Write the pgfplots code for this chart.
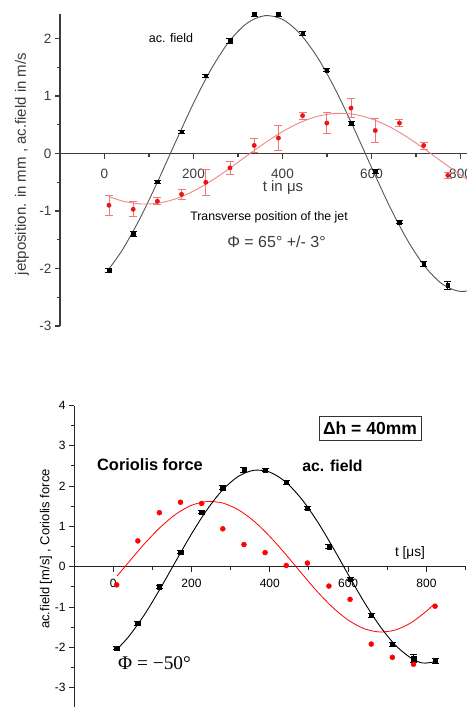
\documentclass[border=0pt]{standalone}
\usepackage{fontspec}
\setmainfont{Liberation Sans}
\newfontfamily\serifT{Liberation Serif}
\usepackage{pgfplots}
\pgfplotsset{compat=1.18}
\usepackage{pgfplotstable}

\pgfplotstableread{
t y e
10 -2.03 0.04
64.4 -1.40 0.04
118.8 -0.49 0.03
173.2 0.38 0.03
227.6 1.35 0.03
282 1.96 0.04
336.4 2.42 0.03
390.8 2.42 0.03
445.2 2.09 0.03
499.6 1.45 0.03
554 0.52 0.03
608.4 -0.31 0.03
662.8 -1.19 0.03
717.2 -1.92 0.04
771.6 -2.29 0.07
}\topblack

\pgfplotstableread{
t y e
10 -0.90 0.17
64.4 -0.97 0.13
118.8 -0.83 0.06
173.2 -0.71 0.09
227.6 -0.50 0.22
282 -0.25 0.12
336.4 0.14 0.12
390.8 0.27 0.22
445.2 0.66 0.06
499.6 0.53 0.18
554 0.79 0.165
608.4 0.40 0.21
662.8 0.53 0.06
717.2 0.14 0.06
771.6 -0.38 0.06
}\topred

\pgfplotstableread{
t y
10 -2.006
40 -1.679
80 -1.125
120 -0.479
160 0.206
200 0.875
240 1.471
280 1.948
320 2.265
360 2.397
400 2.333
440 2.078
480 1.654
520 1.095
560 0.445
600 -0.240
640 -0.908
680 -1.497
720 -1.966
760 -2.275
800 -2.399
840 -2.326
880 -2.065
900 -1.862
}\topblackfit

\pgfplotstableread{
t y
10 -0.747
40 -0.826
80 -0.877
120 -0.864
160 -0.788
200 -0.654
240 -0.475
280 -0.264
320 -0.039
360 0.182
400 0.381
440 0.541
480 0.650
520 0.698
560 0.682
600 0.603
640 0.467
680 0.286
720 0.073
760 -0.152
800 -0.373
840 -0.569
880 -0.728
900 -0.786
}\topredfit

\pgfplotstableread{
t y e
9 -2.02 0.04
63 -1.40 0.05
118 -0.50 0.04
172 0.36 0.04
226 1.35 0.04
280 1.96 0.05
334 2.40 0.05
388 2.40 0.04
442 2.09 0.04
496 1.45 0.04
551 0.50 0.04
605 -0.31 0.04
659 -1.20 0.05
713 -1.92 0.05
767 -2.28 0.09
822 -2.33 0.06
}\botblack

\pgfplotstableread{
t y
9 -0.45
63 0.64
118 1.34
172 1.60
226 1.57
280 0.94
334 0.55
388 0.35
442 0.03
496 0.09
551 -0.48
605 -0.81
659 -1.92
713 -2.25
767 -2.42
822 -0.98
}\botred

\pgfplotstableread{
t y
10 -2.046
40 -1.730
80 -1.188
120 -0.547
160 0.138
200 0.812
240 1.419
280 1.910
320 2.244
360 2.393
400 2.346
440 2.107
480 1.694
520 1.144
560 0.497
600 -0.190
640 -0.862
680 -1.458
720 -1.941
760 -2.263
790 -2.390
820 -2.360
}\botblackfit

\pgfplotstableread{
t y
10 -0.232
40 0.116
80 0.570
120 0.976
160 1.303
200 1.523
240 1.617
280 1.579
320 1.411
360 1.127
400 0.751
440 0.313
480 -0.151
520 -0.604
560 -1.004
600 -1.323
640 -1.534
680 -1.619
720 -1.572
760 -1.395
800 -1.102
820 -0.922
}\botredfit

\definecolor{axgray}{RGB}{60,60,60}
\definecolor{fitgray}{RGB}{85,85,85}
\definecolor{myred}{RGB}{235,20,20}
\definecolor{errred}{RGB}{240,120,120}

\begin{document}
\begin{tikzpicture}[x=1pt,y=1pt]
% ---------------- top panel ----------------
\begin{axis}[
  at={(60pt,-326pt)}, anchor=south west,
  scale only axis, width=445pt, height=312.2pt,
  xmin=-100, xmax=900, ymin=-3, ymax=2.43,
  enlargelimits=false,
  axis x line=middle, axis y line=left,
  axis line style={-, line width=1.2pt, axgray},
  xtick={0,200,400,600,800}, minor xtick={100,300,500,700,900},
  ytick={-3,-2,-1,0,1,2}, minor ytick={-2.5,-1.5,-0.5,0.5,1.5},
  tick align=outside,
  major tick length=5pt, minor tick length=3pt,
  every tick/.style={axgray, line width=1.2pt},
  tick label style={font=\fontsize{13.5}{16}\selectfont, text=axgray},
  xticklabel style={yshift=-7pt},
  /pgf/number format/assume math mode=true,
]
\addplot[fitgray, line width=0.9pt, smooth, no marks] table[x=t,y=y] {\topblackfit};
\addplot[errred!90, line width=0.9pt, smooth, no marks] table[x=t,y=y] {\topredfit};
\addplot[only marks, mark=*, mark size=2.2pt, myred,
  error bars/.cd, y dir=both, y explicit,
  error bar style={errred, line width=0.8pt},
  error mark options={rotate=90, errred, line width=0.8pt, mark size=4pt}]
  table[x=t,y=y,y error=e] {\topred};
\addplot[only marks, mark=square*, mark size=1.8pt, black,
  error bars/.cd, y dir=both, y explicit,
  error bar style={black, line width=0.8pt},
  error mark options={rotate=90, black, line width=0.8pt, mark size=3.5pt}]
  table[x=t,y=y,y error=e] {\topblack};
\end{axis}
\node[rotate=90, font=\fontsize{15}{18}\selectfont, text=axgray] at (22,-164) {jetposition. in mm , ac.field in m/s};
\node[font=\fontsize{15}{18}\selectfont, text=axgray] at (283,-188) {t in μs};
\node[font=\fontsize{12.5}{15}\selectfont] at (171,-38) {ac. field};
\node[font=\fontsize{12.3}{15}\selectfont] at (269,-217) {Transverse position of the jet};
\node[font=\fontsize{16}{19}\selectfont, text=axgray] at (276.5,-242) {Φ = 65° +/- 3°};
% ---------------- bottom panel ----------------
\begin{axis}[
  at={(74pt,-707.75pt)}, anchor=south west,
  scale only axis, width=391.6pt, height=302.25pt,
  xmin=-100, xmax=900, ymin=-3.5, ymax=4,
  enlargelimits=false,
  axis x line=middle, axis y line=left,
  axis line style={-, line width=1pt, black!85},
  xtick={0,200,400,600,800}, minor xtick={100,300,500,700,900},
  ytick={-3,-2,-1,0,1,2,3,4}, minor ytick={-2.5,-1.5,-0.5,0.5,1.5,2.5,3.5},
  tick align=outside,
  major tick length=5pt, minor tick length=3pt,
  every tick/.style={black!85, line width=1pt},
  tick label style={font=\fontsize{12}{14}\selectfont},
  xticklabel style={yshift=-4pt},
  /pgf/number format/assume math mode=true,
]
\addplot[red, line width=0.8pt, smooth, no marks] table[x=t,y=y] {\botredfit};
\addplot[black, line width=0.9pt, smooth, no marks] table[x=t,y=y] {\botblackfit};
\addplot[only marks, mark=*, mark size=2.5pt, red] table[x=t,y=y] {\botred};
\addplot[only marks, mark=square*, mark size=2.2pt, black,
  error bars/.cd, y dir=both, y explicit,
  error bar style={black, line width=1pt},
  error mark options={rotate=90, black, line width=1pt, mark size=3.5pt}]
  table[x=t,y=y,y error=e] {\botblack};
\end{axis}
\node[rotate=90, font=\fontsize{13}{16}\selectfont] at (46,-549) {ac.field [m/s] , Coriolis force};
\node[font=\bfseries\fontsize{16.4}{19}\selectfont] at (150,-465) {Coriolis force};
\node[font=\bfseries\fontsize{15.8}{19}\selectfont] at (332.5,-466) {ac. field};
\node[draw=black!80, line width=1pt, inner sep=1.5pt, minimum width=102pt, minimum height=24pt, font=\bfseries\fontsize{17.5}{20}\selectfont] at (370,-428.7) {Δh = 40mm};
\node[font=\fontsize{13.7}{16}\selectfont] at (410,-552.7) {t [μs]};
\node[font=\serifT\fontsize{19.3}{22}\selectfont] at (154.5,-663) {Φ = −50°};
\pgfresetboundingbox
\useasboundingbox (0,0) rectangle (466,-707);
\end{tikzpicture}
\end{document}
